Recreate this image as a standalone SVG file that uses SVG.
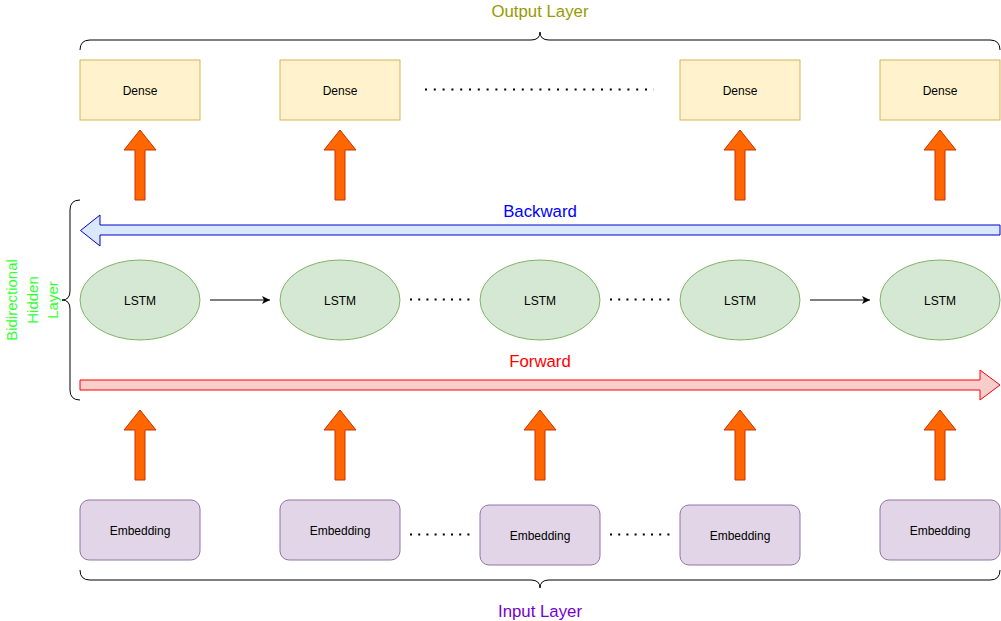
<svg xmlns="http://www.w3.org/2000/svg" width="1001" height="621" viewBox="0 0 1001 621">
<defs>
<style>
.dense{fill:#fff2cc;stroke:#d6b656;stroke-width:1}
.lstm{fill:#d5e8d4;stroke:#82b366;stroke-width:1}
.emb{fill:#e1d5e7;stroke:#9673a6;stroke-width:1}
.lbl{font-family:"Liberation Sans",Arial,sans-serif;font-size:12px;fill:#000;text-anchor:middle}
.big{font-family:"Liberation Sans",Arial,sans-serif;font-size:16.8px;text-anchor:middle}
.side{font-family:"Liberation Sans",Arial,sans-serif;font-size:15px;fill:#33ff33;text-anchor:middle}
.up{fill:#ff6600;stroke:#c73500;stroke-width:1}
.brace{fill:none;stroke:#000;stroke-width:1}
.dots{stroke:#000;stroke-width:2;fill:none}
.link{stroke:#000;stroke-width:1;fill:none}
</style>
<path id="uparr" class="up" d="M0,0 L16,20 L5,20 L5,70 L-5,70 L-5,20 L-16,20 Z"/>
<marker id="ah" markerWidth="10" markerHeight="10" refX="8" refY="4" orient="auto" markerUnits="userSpaceOnUse">
<path d="M0,0 L8,4 L0,8 L2,4 Z" fill="#000"/>
</marker>
</defs>
<rect width="1001" height="621" fill="#fff"/>

<g id="output-brace">
<path class="brace" d="M80,50 Q80,40 90,40 L531,40 Q540,40 540,32 Q540,40 549,40 L990,40 Q1000,40 1000,50"/>
<text class="big" x="540" y="17" fill="#999900">Output Layer</text>
</g>

<g id="dense1"><rect class="dense" x="80" y="60" width="120" height="60"/><text class="lbl" x="140" y="95">Dense</text></g>
<g id="dense2"><rect class="dense" x="280" y="60" width="120" height="60"/><text class="lbl" x="340" y="95">Dense</text></g>
<g id="dense3"><rect class="dense" x="680" y="60" width="120" height="60"/><text class="lbl" x="740" y="95">Dense</text></g>
<g id="dense4"><rect class="dense" x="880" y="60" width="120" height="60"/><text class="lbl" x="940" y="95">Dense</text></g>

<g id="hidden-brace">
<path class="brace" d="M80,200 Q70,200 70,210 L70,291 Q70,300 62,300 Q70,300 70,309 L70,390 Q70,400 80,400"/>
<text class="side" transform="translate(17,300) rotate(-90)">Bidirectional</text>
<text class="side" transform="translate(37.5,300) rotate(-90)">Hidden</text>
<text class="side" transform="translate(57.5,300) rotate(-90)">Layer</text>
</g>

<g id="backward">
<path d="M80.5,230.5 L100,215 L100,225 L1000,225 L1000,235 L100,235 L100,246 Z" fill="#dae8fc" stroke="#0000cc" stroke-width="1"/>
<text class="big" x="540" y="217" fill="#0000ff">Backward</text>
</g>

<g id="forward">
<path d="M80,380 L980,380 L980,370 L1000,385 L980,400 L980,390 L80,390 Z" fill="#f8cecc" stroke="#ff0000" stroke-width="1"/>
<text class="big" x="540" y="367" fill="#ff0000">Forward</text>
</g>

<g id="lstm1"><ellipse class="lstm" cx="140" cy="300" rx="60" ry="40"/><text class="lbl" x="140" y="304.5">LSTM</text></g>
<g id="lstm2"><ellipse class="lstm" cx="340" cy="300" rx="60" ry="40"/><text class="lbl" x="340" y="304.5">LSTM</text></g>
<g id="lstm3"><ellipse class="lstm" cx="540" cy="300" rx="60" ry="40"/><text class="lbl" x="540" y="304.5">LSTM</text></g>
<g id="lstm4"><ellipse class="lstm" cx="740" cy="300" rx="60" ry="40"/><text class="lbl" x="740" y="304.5">LSTM</text></g>
<g id="lstm5"><ellipse class="lstm" cx="940" cy="300" rx="60" ry="40"/><text class="lbl" x="940" y="304.5">LSTM</text></g>

<g id="emb1"><rect class="emb" x="80" y="500" width="120" height="60" rx="9"/><text class="lbl" x="140" y="535">Embedding</text></g>
<g id="emb2"><rect class="emb" x="280" y="500" width="120" height="60" rx="9"/><text class="lbl" x="340" y="535">Embedding</text></g>
<g id="emb3"><rect class="emb" x="480" y="505" width="120" height="60" rx="9"/><text class="lbl" x="540" y="540">Embedding</text></g>
<g id="emb4"><rect class="emb" x="680" y="505" width="120" height="60" rx="9"/><text class="lbl" x="740" y="540">Embedding</text></g>
<g id="emb5"><rect class="emb" x="880" y="500" width="120" height="60" rx="9"/><text class="lbl" x="940" y="535">Embedding</text></g>

<g id="input-brace">
<path class="brace" d="M80,570 Q80,580 90,580 L531,580 Q540,580 540,588 Q540,580 549,580 L990,580 Q1000,580 1000,570"/>
<text class="big" x="540" y="617" fill="#7700cc">Input Layer</text>
</g>

<g id="connectors">
<use href="#uparr" x="140" y="130"/>
<use href="#uparr" x="340" y="130"/>
<use href="#uparr" x="740" y="130"/>
<use href="#uparr" x="940" y="130"/>
<use href="#uparr" x="140" y="410"/>
<use href="#uparr" x="340" y="410"/>
<use href="#uparr" x="540" y="410"/>
<use href="#uparr" x="740" y="410"/>
<use href="#uparr" x="940" y="410"/>
<line class="link" x1="210" y1="300" x2="270" y2="300" marker-end="url(#ah)"/>
<line class="link" x1="810" y1="300" x2="870" y2="300" marker-end="url(#ah)"/>
<line class="dots" x1="425" y1="89.5" x2="654" y2="89.5" stroke-dasharray="2 6.8"/>
<line class="dots" x1="410" y1="299.5" x2="470" y2="299.5" stroke-dasharray="2 6.2"/>
<line class="dots" x1="610" y1="299.5" x2="670" y2="299.5" stroke-dasharray="2 6.2"/>
<line class="dots" x1="410" y1="534.5" x2="470" y2="534.5" stroke-dasharray="2 6.2"/>
<line class="dots" x1="610" y1="534.5" x2="670" y2="534.5" stroke-dasharray="2 6.2"/>
</g>
</svg>
